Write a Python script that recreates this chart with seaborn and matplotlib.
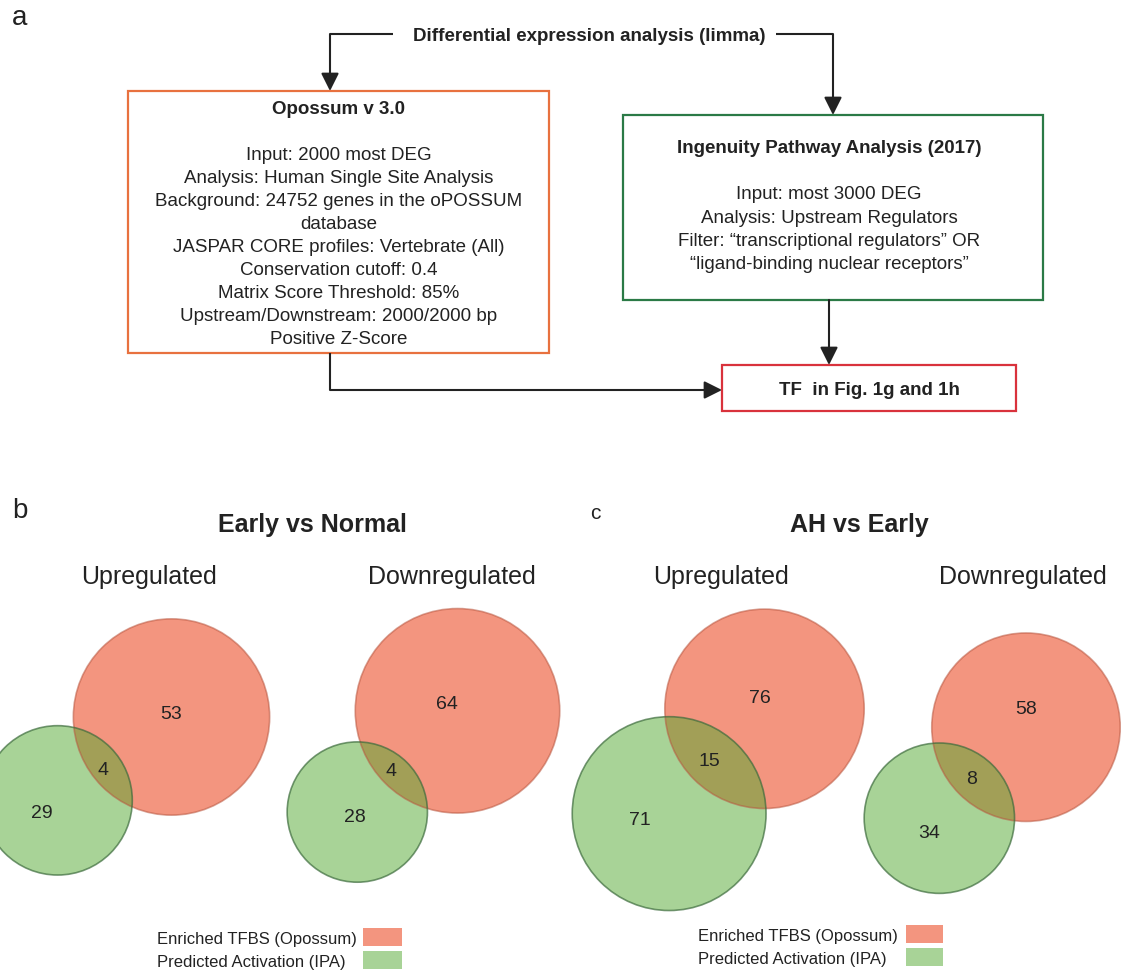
import numpy as np
import matplotlib
matplotlib.use("Agg")
import matplotlib.pyplot as plt
import seaborn as sns
from matplotlib.patches import Circle, Rectangle

# ---------------------------------------------------------------- data
comparisons = ["Early vs Normal", "AH vs Early"]
directions = ["Upregulated", "Downregulated"]
opossum_only = [53, 64, 76, 58]   # Enriched TFBS (Opossum) only
shared = [4, 4, 15, 8]            # in both sets
ipa_only = [29, 28, 71, 34]       # Predicted Activation (IPA) only
set_names = ["Enriched TFBS (Opossum)", "Predicted Activation (IPA)"]

flow_title = "Differential expression analysis (limma)"
opossum_title = "Opossum v 3.0"
opossum_lines = [
    "Input: 2000 most DEG",
    "Analysis: Human Single Site Analysis",
    "Background: 24752 genes in the oPOSSUM",
    "database",
    "JASPAR CORE profiles: Vertebrate (All)",
    "Conservation cutoff: 0.4",
    "Matrix Score Threshold: 85%",
    "Upstream/Downstream: 2000/2000 bp",
    "Positive Z-Score",
]
ipa_title = "Ingenuity Pathway Analysis (2017)"
ipa_lines = [
    "Input: most 3000 DEG",
    "Analysis: Upstream Regulators",
    "Filter: \u201ctranscriptional regulators\u201d OR",
    "\u201cligand-binding nuclear receptors\u201d",
]
result_text = "TF  in Fig. 1g and 1h"

# ---------------------------------------------------------------- style
sns.set_theme(style="white")
plt.rcParams["font.family"] = ["Liberation Sans", "DejaVu Sans"]
TXT = "#222222"
OPOSSUM_FILL = "#E92D01"
IPA_FILL = "#53A931"
OPOSSUM_EDGE = "#B8563F"
IPA_EDGE = "#3C6B3C"
FILL_ALPHA = 0.5

W, H = 1121, 971
fig = plt.figure(figsize=(W / 100, H / 100), dpi=100)
ax = fig.add_axes([0, 0, 1, 1])
ax.set_xlim(0, W)
ax.set_ylim(H, 0)
ax.axis("off")


def txt(x, y, s, fs, **kw):
    """Text whose capital letters are vertically centred on y (pixels)."""
    kw.setdefault("ha", "center")
    kw.setdefault("color", TXT)
    ax.text(x, y + 0.358 * fs * 100 / 72, s, fontsize=fs, va="baseline", **kw)


def box(x0, y0, x1, y1, color):
    ax.add_patch(Rectangle((x0, y0), x1 - x0, y1 - y0, fill=False,
                           edgecolor=color, lw=1.6, zorder=2))


def connector(points):
    """Polyline ending with a filled arrow head."""
    xs, ys = zip(*points)
    ax.plot(xs[:-1], ys[:-1], color=TXT, lw=1.5, solid_capstyle="butt",
            solid_joinstyle="miter", zorder=3)
    ax.annotate("", xy=points[-1], xytext=points[-2],
                arrowprops=dict(arrowstyle="-|>,head_length=0.9,head_width=0.45",
                                color=TXT, lw=1.5, shrinkA=0, shrinkB=0),
                zorder=3)


# ---------------------------------------------------------------- panel a: workflow
ax.text(12, 25, "a", fontsize=20, color=TXT, va="baseline", ha="left")
txt(589, 34, flow_title, 13.5, fontweight="bold")

box(128, 91, 549, 353, "#E8713F")
txt(338.5, 107, opossum_title, 13.5, fontweight="bold")
for i, line in enumerate(opossum_lines):
    txt(338.5, 153.3 + 23.0 * i, line, 13.5)

box(623, 115, 1043, 300, "#2B7A46")
txt(829, 146.7, ipa_title, 13.5, fontweight="bold")
for i, line in enumerate(ipa_lines):
    txt(829, 192.7 + 23.3 * i, line, 13.5)

box(722, 365, 1016, 411, "#D9323C")
txt(869, 388, result_text, 13.5, fontweight="bold")

connector([(393, 34), (330, 34), (330, 91)])
connector([(776, 34), (833, 34), (833, 115)])
connector([(330, 353), (330, 390), (722, 390)])
connector([(829, 300), (829, 365)])

# ---------------------------------------------------------------- panels b, c: Venn diagrams


def lens_area(r1, r2, d):
    if d >= r1 + r2:
        return 0.0
    if d <= abs(r1 - r2):
        return np.pi * min(r1, r2) ** 2
    a1 = np.arccos((d * d + r1 * r1 - r2 * r2) / (2 * d * r1))
    a2 = np.arccos((d * d + r2 * r2 - r1 * r1) / (2 * d * r2))
    return (r1 * r1 * (a1 - np.sin(2 * a1) / 2)
            + r2 * r2 * (a2 - np.sin(2 * a2) / 2))


def centre_distance(r1, r2, target):
    lo, hi = abs(r1 - r2), r1 + r2
    for _ in range(80):
        mid = 0.5 * (lo + hi)
        if lens_area(r1, r2, mid) > target:
            lo = mid
        else:
            hi = mid
    return 0.5 * (lo + hi)


# layout of each diagram: Opossum circle centre, pixel scale, direction of the
# IPA circle (degrees below horizontal, to the left) and label nudges
venn_layout = [
    dict(centre=(171.5, 717.0), scale=13.0, angle=36.2,
         nudge=((0, -5), (-2, 2), (-16, 11))),
    dict(centre=(457.5, 710.8), scale=12.4, angle=45.3,
         nudge=((-11, -9), (-5, -4), (-2, 3))),
    dict(centre=(764.5, 708.8), scale=10.45, angle=47.7,
         nudge=((-5, -13), (-7, -3), (-29, 4))),
    dict(centre=(1026.0, 727.2), scale=11.6, angle=46.4,
         nudge=((0, -20), (-5, -3), (-10, 13))),
]

for k, lay in enumerate(venn_layout):
    n_red = opossum_only[k] + shared[k]
    n_green = ipa_only[k] + shared[k]
    s = lay["scale"]
    r_red = s * np.sqrt(n_red)
    r_green = s * np.sqrt(n_green)
    d = centre_distance(r_red, r_green, s * s * np.pi * shared[k])
    th = np.deg2rad(lay["angle"])
    u = np.array([-np.cos(th), np.sin(th)])
    c_red = np.array(lay["centre"])
    c_green = c_red + d * u

    ax.add_patch(Circle(c_red, r_red, facecolor=OPOSSUM_FILL, alpha=FILL_ALPHA,
                        edgecolor="none", zorder=4))
    ax.add_patch(Circle(c_green, r_green, facecolor=IPA_FILL, alpha=FILL_ALPHA,
                        edgecolor="none", zorder=5))
    ax.add_patch(Circle(c_red, r_red, fill=False, edgecolor=OPOSSUM_EDGE,
                        alpha=0.55, lw=1.2, zorder=6))
    ax.add_patch(Circle(c_green, r_green, fill=False, edgecolor=IPA_EDGE,
                        alpha=0.7, lw=1.2, zorder=6))

    lens_mid = c_red + 0.5 * (d - r_green + r_red) * u
    spots = [c_red, lens_mid, c_green]
    values = [opossum_only[k], shared[k], ipa_only[k]]
    for (x, y), (dx, dy), v in zip(spots, lay["nudge"], values):
        txt(x + dx, y + dy, str(v), 14, zorder=7)

# titles
ax.text(12, 518, "b", fontsize=20, color=TXT, va="baseline", ha="left")
ax.text(590, 519, "c", fontsize=15, color=TXT, va="baseline", ha="left")
for title, x in zip(comparisons, [312.5, 859]):
    txt(x, 523, title, 18, fontweight="bold")
for label, x in zip(directions * 2, [149, 452, 721, 1023]):
    txt(x, 575.5, label, 18)

# legends
legend_layout = [
    dict(text_x=157, box_x=(363, 402), rows=(937, 960)),
    dict(text_x=698, box_x=(906, 943), rows=(934, 957)),
]
for lg in legend_layout:
    for name, fill, y in zip(set_names, [OPOSSUM_FILL, IPA_FILL], lg["rows"]):
        txt(lg["text_x"], y + 1, name, 12, ha="left")
        bx0, bx1 = lg["box_x"]
        ax.add_patch(Rectangle((bx0, y - 9), bx1 - bx0, 18, facecolor=fill,
                               alpha=FILL_ALPHA, edgecolor="none"))

fig.savefig("out.png", dpi=100, facecolor="white")
